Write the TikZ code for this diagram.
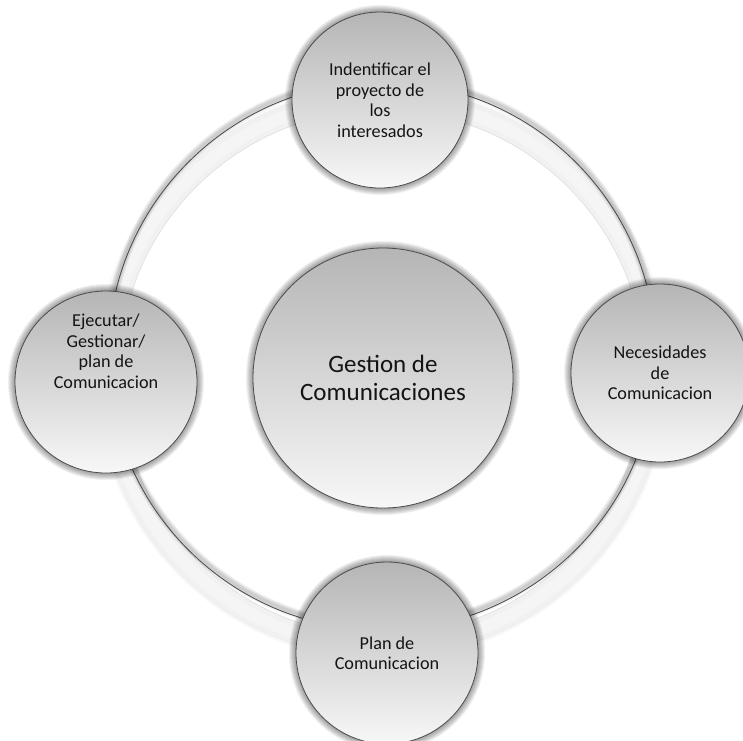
\documentclass[tikz,border=0pt]{standalone}
\usepackage{fontspec}
\setmainfont{Carlito}
\begin{document}
\begin{tikzpicture}[x=1pt,y=-1pt,
  bub/.style={circle, draw=black!70, line width=0.8pt, top color=gray!58, bottom color=gray!6,
    inner sep=0pt, align=center, text=black!92, font=\fontsize{18.2}{20.5}\selectfont},
  lbl/.style={align=center, text=black!92, inner sep=0pt, font=\fontsize{18.2}{20.5}\selectfont},
  glow/.style={black, opacity=0.06}
]
\useasboundingbox (0,0) rectangle (743,740);
\clip (0,0) rectangle (743,740);
\fill[white] (0,0) rectangle (743,740);

% ring: light band
\coordinate (bc) at (382,373);
\coordinate (lc) at (382,356);
\coordinate (sc) at (382,353);
\fill[gray!11, even odd rule] (bc) circle[radius=285pt] (bc) circle[radius=263pt];
\fill[white, opacity=0.35, even odd rule] (bc) circle[radius=280pt] (bc) circle[radius=268pt];
\foreach \k in {0,1,2} \draw[black, opacity=0.025, line width=1pt] (bc) circle[radius={285+\k*1pt}];
\draw[gray!28, line width=0.5pt] (bc) circle[radius=263pt];
% soft shadow of the ring edge
\foreach \w in {9,7,5,3} \draw[black, opacity=0.05, line width=\w pt] (sc) circle[radius=274pt];
% ring edge
\draw[black!72, line width=0.8pt] (lc) circle[radius=274pt];

% shadows of bubbles
\foreach \cx/\cy/\r in {383/378/130, 380/100/88, 106/382/91, 660/373/89, 387/653/91}
  \foreach \k in {1,...,7} \fill[glow] (\cx,\cy) circle[radius={(\r+\k)*1pt}];

% bubbles
\node[bub, minimum size=260pt, font=\fontsize{25}{27.5}\selectfont] (center) at (383,378)
  {Gestion de\\Comunicaciones};
\node[bub, minimum size=176pt] (top) at (380,100)
  {Indentificar el\\proyecto de\\los\\interesados};
\node[bub, minimum size=182pt] (left) at (106,382) {};
\node[lbl] (lefttext) at (106,351) {Ejecutar/\\Gestionar/\\plan de\\Comunicacion};
\node[bub, minimum size=178pt] (right) at (660,373)
  {Necesidades\\de\\Comunicacion};
\node[bub, minimum size=182pt] (bottom) at (387,653)
  {Plan de\\Comunicacion};
\end{tikzpicture}
\end{document}
